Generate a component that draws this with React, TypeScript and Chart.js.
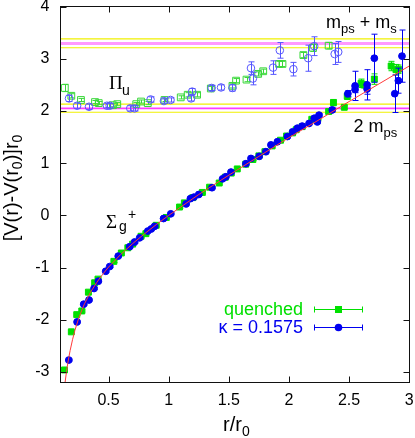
import React, { useEffect, useRef } from 'react';
import { Chart, registerables } from 'chart.js';

Chart.register(...registerables);

const SANS = '"Liberation Sans", Arial, Helvetica, sans-serif';
const SERIF = '"Liberation Serif", "Times New Roman", serif';

// ---------- data ----------
const xRange = [0.1, 3];
const yRange = [-3.2, 4];
const xTickValues = [0.5, 1, 1.5, 2, 2.5, 3];
const yTickValues = [-3, -2, -1, 0, 1, 2, 3, 4];

// ground state Sigma_g^+, quenched (filled green squares)
const quenchedR = [0.133, 0.19, 0.235, 0.277, 0.332, 0.384, 0.412, 0.544, 0.606, 0.66, 0.70, 0.77, 0.81, 0.896, 0.98, 1.09, 1.13, 1.20, 1.28, 1.34, 1.42, 1.47, 1.52, 1.57, 1.64, 1.70, 1.75, 1.80, 1.86, 1.93, 1.98, 2.03, 2.06, 2.11, 2.19, 2.24, 2.33, 2.37, 2.46, 2.485, 2.60, 2.62, 2.71, 2.85, 2.89, 2.91];
const quenchedV = [-2.96, -2.23, -1.90, -1.83, -1.47, -1.29, -1.22, -0.88, -0.72, -0.62, -0.55, -0.40, -0.35, -0.19, -0.04, 0.16, 0.24, 0.34, 0.44, 0.54, 0.62, 0.73, 0.81, 0.89, 0.98, 1.07, 1.14, 1.22, 1.33, 1.44, 1.52, 1.58, 1.64, 1.70, 1.84, 1.86, 1.99, 2.16, 2.07, 2.28, 2.53, 2.50, 2.61, 2.86, 2.79, 2.80];
const quenchedErr = [0.02, 0.02, 0.02, 0.02, 0.02, 0.02, 0.02, 0.02, 0.02, 0.02, 0.02, 0.02, 0.02, 0.02, 0.02, 0.02, 0.02, 0.02, 0.02, 0.02, 0.02, 0.02, 0.02, 0.02, 0.02, 0.02, 0.02, 0.02, 0.02, 0.02, 0.02, 0.02, 0.02, 0.02, 0.03, 0.03, 0.04, 0.06, 0.03, 0.06, 0.08, 0.06, 0.10, 0.09, 0.10, 0.08];

// ground state Sigma_g^+, kappa = 0.1575 (filled blue circles)
const kappaR = [0.169, 0.238, 0.293, 0.337, 0.379, 0.415, 0.476, 0.509, 0.58, 0.675, 0.716, 0.758, 0.826, 0.855, 0.882, 0.957, 1.017, 1.145, 1.18, 1.21, 1.25, 1.36, 1.448, 1.475, 1.518, 1.642, 1.684, 1.752, 1.808, 1.85, 1.904, 1.987, 2.03, 2.07, 2.11, 2.167, 2.21, 2.236, 2.25, 2.36, 2.49, 2.55, 2.55, 2.65, 2.65, 2.71, 2.88, 2.91, 2.94];
const kappaV = [-2.77, -2.04, -1.70, -1.62, -1.40, -1.26, -1.07, -0.98, -0.78, -0.60, -0.51, -0.43, -0.30, -0.26, -0.21, -0.06, 0.03, 0.22, 0.32, 0.35, 0.40, 0.53, 0.70, 0.74, 0.83, 0.99, 1.09, 1.13, 1.22, 1.35, 1.41, 1.51, 1.60, 1.67, 1.71, 1.76, 1.86, 1.79, 1.92, 2.02, 2.33, 2.48, 2.41, 2.50, 2.42, 3.01, 2.33, 2.58, 3.05];
const kappaErr = [0.02, 0.02, 0.02, 0.02, 0.02, 0.02, 0.02, 0.02, 0.02, 0.02, 0.02, 0.02, 0.02, 0.02, 0.02, 0.02, 0.02, 0.02, 0.02, 0.02, 0.02, 0.02, 0.02, 0.02, 0.02, 0.02, 0.02, 0.02, 0.02, 0.02, 0.02, 0.02, 0.02, 0.02, 0.02, 0.02, 0.03, 0.03, 0.03, 0.04, 0.06, 0.28, 0.06, 0.29, 0.10, 0.46, 0.36, 0.24, 0.50];

// excited state Pi_u, quenched (open green squares)
const piuQuenchedR = [0.136, 0.19, 0.27, 0.387, 0.418, 0.536, 0.572, 0.73, 0.77, 0.826, 0.965, 1.10, 1.158, 1.236, 1.35, 1.53, 1.56, 1.647, 1.744, 1.786, 1.918, 1.946, 2.12, 2.20, 2.33];
const piuQuenchedV = [2.44, 2.29, 2.21, 2.17, 2.15, 2.11, 2.13, 2.13, 2.18, 2.15, 2.21, 2.26, 2.31, 2.31, 2.43, 2.48, 2.58, 2.60, 2.71, 2.76, 2.90, 2.90, 3.07, 3.21, 3.25];
const piuQuenchedErr = [0.07, 0.04, 0.03, 0.03, 0.03, 0.03, 0.03, 0.03, 0.03, 0.03, 0.03, 0.03, 0.04, 0.04, 0.04, 0.04, 0.04, 0.04, 0.04, 0.04, 0.05, 0.05, 0.05, 0.07, 0.06];

// excited state Pi_u, kappa = 0.1575 (open blue circles)
const piuKappaR = [0.171, 0.238, 0.337, 0.486, 0.509, 0.68, 0.716, 0.849, 0.96, 1.015, 1.186, 1.195, 1.357, 1.435, 1.53, 1.684, 1.70, 1.868, 1.924, 2.037, 2.16, 2.21, 2.38, 2.41];
const piuKappaV = [2.24, 2.10, 2.08, 2.10, 2.10, 2.05, 2.05, 2.22, 2.19, 2.21, 2.24, 2.37, 2.44, 2.45, 2.44, 2.82, 2.62, 2.83, 3.16, 2.80, 3.01, 3.24, 3.09, 3.13];
const piuKappaErr = [0.06, 0.05, 0.05, 0.04, 0.04, 0.05, 0.05, 0.05, 0.04, 0.04, 0.05, 0.06, 0.05, 0.05, 0.06, 0.12, 0.12, 0.13, 0.15, 0.13, 0.25, 0.18, 0.20, 0.20];

// fit curve
const fitR = [0.138, 0.15, 0.16, 0.17, 0.18, 0.2, 0.22, 0.25, 0.28, 0.3, 0.35, 0.4, 0.45, 0.5, 0.6, 0.7, 0.8, 0.9, 1.0, 1.25, 1.5, 1.75, 2.0, 2.25, 2.5, 2.75, 3.0];
const fitV = [-3.2, -2.99, -2.84, -2.71, -2.59, -2.38, -2.20, -1.98, -1.80, -1.69, -1.47, -1.29, -1.13, -0.99, -0.75, -0.54, -0.35, -0.17, 0, 0.40, 0.77, 1.13, 1.49, 1.83, 2.18, 2.52, 2.86];

// thresholds
const thresholdYellow = [3.38, 3.21, 2.13, 1.975];
const thresholdPinkUpper = [3.29];
const thresholdMagentaLower = [2.05];

// text
const legendLabels = ['quenched', '\u03BA = 0.1575'];

// ---------- styles ----------
const GREEN = '#00e000';
const BLUE = '#0000f0';
const OPEN_GREEN = '#3ad83a';
const OPEN_BLUE = '#5656ff';

function pts(r: number[], v: number[]) {
  return r.map((x, i) => ({ x, y: v[i] }));
}
function hline(v: number, color: string, width: number) {
  return {
    data: [{ x: xRange[0], y: v }, { x: xRange[1], y: v }],
    showLine: true,
    borderColor: color,
    borderWidth: width,
    pointRadius: 0,
    order: 6,
  };
}

type Part = { t: string; font: string; dy?: number };
function drawParts(ctx: CanvasRenderingContext2D, x: number, y: number, parts: Part[]) {
  let cx = x;
  for (const p of parts) {
    ctx.font = p.font;
    ctx.fillText(p.t, cx, y + (p.dy || 0));
    cx += ctx.measureText(p.t).width;
  }
}
function partsWidth(ctx: CanvasRenderingContext2D, parts: Part[]) {
  let w = 0;
  for (const p of parts) {
    ctx.font = p.font;
    w += ctx.measureText(p.t).width;
  }
  return w;
}

const errorBarPlugin = {
  id: 'errbars',
  beforeDatasetDraw(chart: any, args: any) {
    const ds = chart.data.datasets[args.index];
    const errs: number[] | undefined = ds.errors;
    if (!errs) return;
    const { ctx, chartArea: a, scales } = chart;
    const xs = scales.x, ys = scales.y;
    ctx.save();
    ctx.beginPath();
    ctx.rect(a.left, a.top, a.right - a.left, a.bottom - a.top);
    ctx.clip();
    ctx.strokeStyle = ds.errorColor;
    ctx.lineWidth = 1;
    ds.data.forEach((p: any, i: number) => {
      const px = Math.round(xs.getPixelForValue(p.x)) + 0.5;
      const y1 = ys.getPixelForValue(p.y - errs[i]);
      const y2 = ys.getPixelForValue(p.y + errs[i]);
      ctx.beginPath();
      ctx.moveTo(px, y1); ctx.lineTo(px, y2);
      ctx.moveTo(px - 3, y1); ctx.lineTo(px + 3, y1);
      ctx.moveTo(px - 3, y2); ctx.lineTo(px + 3, y2);
      ctx.stroke();
    });
    ctx.restore();
  },
};

const decorPlugin = {
  id: 'decor',
  afterDraw(chart: any) {
    const { ctx, chartArea: a, scales } = chart;
    const xs = scales.x, ys = scales.y;
    ctx.save();
    // frame
    const L = Math.floor(a.left) + 0.5, R = Math.floor(a.right) + 0.5;
    const T = Math.floor(a.top) + 0.5, B = Math.floor(a.bottom) + 0.5;
    ctx.strokeStyle = '#111';
    ctx.lineWidth = 1;
    ctx.strokeRect(L, T, R - L, B - T);
    // inward ticks on all sides
    ctx.beginPath();
    for (const v of xTickValues) {
      const px = Math.round(xs.getPixelForValue(v)) + 0.5;
      ctx.moveTo(px, B); ctx.lineTo(px, B - 6);
      ctx.moveTo(px, T); ctx.lineTo(px, T + 6);
    }
    for (const v of yTickValues) {
      const py = Math.round(ys.getPixelForValue(v)) + 0.5;
      ctx.moveTo(L, py); ctx.lineTo(L + 6, py);
      ctx.moveTo(R, py); ctx.lineTo(R - 6, py);
    }
    ctx.stroke();

    ctx.fillStyle = '#000';
    ctx.textAlign = 'left';
    ctx.textBaseline = 'alphabetic';

    // x axis title
    drawParts(ctx, 223, 431, [
      { t: 'r/r', font: `20px ${SANS}` },
      { t: '0', font: `14px ${SANS}`, dy: 5 },
    ]);

    // y axis title (rotated)
    const yParts: Part[] = [
      { t: '[V(r)-V(r', font: `20px ${SANS}` },
      { t: '0', font: `14px ${SANS}`, dy: 4 },
      { t: ')]r', font: `20px ${SANS}` },
      { t: '0', font: `14px ${SANS}`, dy: 4 },
    ];
    ctx.save();
    ctx.translate(17.5, 188);
    ctx.rotate(-Math.PI / 2);
    const yw = partsWidth(ctx, yParts);
    drawParts(ctx, -yw / 2, 0, yParts);
    ctx.restore();

    // state labels
    drawParts(ctx, 109, 88.5, [{ t: '\u03A0', font: `19px ${SERIF}` }]);
    drawParts(ctx, 122, 94.5, [{ t: 'u', font: `14px ${SANS}` }]);

    drawParts(ctx, 106, 228, [{ t: '\u03A3', font: `19px ${SERIF}` }]);
    drawParts(ctx, 119, 231, [{ t: 'g', font: `14px ${SANS}` }]);
    drawParts(ctx, 128, 219, [{ t: '+', font: `14px ${SANS}` }]);

    drawParts(ctx, 326, 28, [
      { t: 'm', font: `18px ${SANS}` },
      { t: 'ps', font: `13px ${SANS}`, dy: 5 },
      { t: ' + m', font: `18px ${SANS}` },
      { t: 's', font: `13px ${SANS}`, dy: 5 },
    ]);
    drawParts(ctx, 353.5, 132, [
      { t: '2 m', font: `18px ${SANS}` },
      { t: 'ps', font: `13px ${SANS}`, dy: 5 },
    ]);

    // legend
    ctx.textAlign = 'right';
    ctx.font = `18px ${SANS}`;
    ctx.fillStyle = GREEN;
    ctx.fillText(legendLabels[0], 303, 315);
    ctx.fillStyle = BLUE;
    ctx.fillText(legendLabels[1], 303, 333);

    const drawSample = (y: number, color: string, square: boolean) => {
      ctx.strokeStyle = color;
      ctx.fillStyle = color;
      ctx.lineWidth = 1;
      ctx.beginPath();
      ctx.moveTo(314.5, y); ctx.lineTo(362.5, y);
      ctx.moveTo(314.5, y - 3); ctx.lineTo(314.5, y + 3);
      ctx.moveTo(362.5, y - 3); ctx.lineTo(362.5, y + 3);
      ctx.stroke();
      if (square) {
        ctx.fillRect(335, y - 3.5, 7, 7);
      } else {
        ctx.beginPath();
        ctx.arc(338.5, y, 3.8, 0, Math.PI * 2);
        ctx.fill();
      }
    };
    drawSample(309.5, GREEN, true);
    drawSample(327.5, BLUE, false);

    ctx.restore();
  },
};

export default function App() {
  const ref = useRef<HTMLCanvasElement>(null);

  useEffect(() => {
    const canvas = ref.current;
    if (!canvas) return;

    const datasets: any[] = [
      ...thresholdYellow.map((v) => hline(v, '#f0f000', 1.2)),
      ...thresholdPinkUpper.map((v) => hline(v, '#ff99ff', 3)),
      ...thresholdMagentaLower.map((v) => hline(v, '#ff3cff', 1.6)),
      {
        label: 'Pi_u quenched',
        data: pts(piuQuenchedR, piuQuenchedV),
        errors: piuQuenchedErr,
        errorColor: OPEN_GREEN,
        pointStyle: 'rect',
        pointRadius: 4.8,
        pointBorderWidth: 1,
        pointBackgroundColor: 'rgba(0,0,0,0)',
        pointBorderColor: OPEN_GREEN,
        showLine: false,
        order: 5,
      },
      {
        label: 'Pi_u kappa',
        data: pts(piuKappaR, piuKappaV),
        errors: piuKappaErr,
        errorColor: OPEN_BLUE,
        pointStyle: 'circle',
        pointRadius: 3.8,
        pointBorderWidth: 1,
        pointBackgroundColor: 'rgba(0,0,0,0)',
        pointBorderColor: OPEN_BLUE,
        showLine: false,
        order: 4,
      },
      {
        label: 'quenched',
        data: pts(quenchedR, quenchedV),
        errors: quenchedErr,
        errorColor: GREEN,
        pointStyle: 'rect',
        pointRadius: 4.2,
        pointBorderWidth: 1,
        pointBackgroundColor: GREEN,
        pointBorderColor: GREEN,
        showLine: false,
        order: 3,
      },
      {
        label: 'kappa = 0.1575',
        data: pts(kappaR, kappaV),
        errors: kappaErr,
        errorColor: BLUE,
        pointStyle: 'circle',
        pointRadius: 3.4,
        pointBorderWidth: 1,
        pointBackgroundColor: BLUE,
        pointBorderColor: BLUE,
        showLine: false,
        order: 2,
      },
      {
        label: 'fit',
        data: pts(fitR, fitV),
        showLine: true,
        borderColor: '#ff3a3a',
        borderWidth: 1,
        pointRadius: 0,
        tension: 0,
        order: 1,
      },
    ];

    const tickFont = { family: SANS, size: 16 };

    const chart = new Chart(canvas, {
      type: 'scatter',
      data: { datasets },
      options: {
        responsive: false,
        maintainAspectRatio: false,
        devicePixelRatio: 1,
        animation: false,
        events: [],
        layout: { padding: { top: 6.5, right: 4.5, left: 0, bottom: 0 } },
        plugins: {
          legend: { display: false },
          tooltip: { enabled: false },
          title: { display: false },
        },
        scales: {
          x: {
            type: 'linear',
            min: xRange[0],
            max: xRange[1],
            grid: { display: false, drawTicks: false },
            border: { display: false },
            ticks: {
              font: tickFont,
              color: '#000',
              padding: 8,
              maxRotation: 0,
              autoSkip: false,
              callback: (v: any) => String(v),
            },
            afterBuildTicks: (s: any) => {
              s.ticks = xTickValues.map((v) => ({ value: v }));
            },
            afterFit: (s: any) => {
              s.height = 55.5;
              s.paddingLeft = 0;
              s.paddingRight = 0;
            },
          },
          y: {
            type: 'linear',
            min: yRange[0],
            max: yRange[1],
            grid: { display: false, drawTicks: false },
            border: { display: false },
            ticks: {
              font: tickFont,
              color: '#000',
              padding: 11,
              autoSkip: false,
              callback: (v: any) => String(v),
            },
            afterBuildTicks: (s: any) => {
              s.ticks = yTickValues.map((v) => ({ value: v }));
            },
            afterFit: (s: any) => {
              s.width = 60.5;
              s.paddingTop = 0;
              s.paddingBottom = 0;
            },
          },
        },
      } as any,
      plugins: [errorBarPlugin, decorPlugin],
    });

    return () => chart.destroy();
  }, []);

  return (
    <div style={{ position: 'absolute', left: 0, top: 0, width: 415, height: 438, background: '#fff' }}>
      <canvas ref={ref} width={415} height={438} style={{ display: 'block', width: 415, height: 438 }} />
    </div>
  );
}
